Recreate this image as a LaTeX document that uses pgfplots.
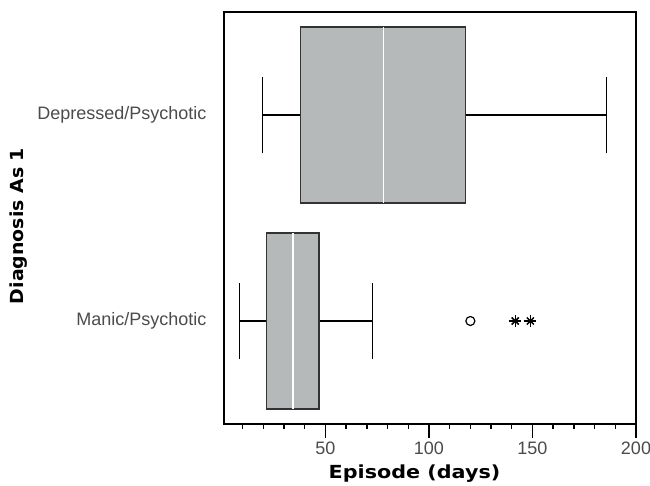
\documentclass[border=0pt]{standalone}
\usepackage{pgfplots}
\pgfplotsset{compat=1.18}
\usepgfplotslibrary{statistics}
\usepackage{fontspec}
\setmainfont{Liberation Sans}
\newfontfamily\labfont{DejaVu Sans}[FakeStretch=1.15]
\newfontfamily\ylabfont{DejaVu Sans}[FakeStretch=1.05]
\definecolor{boxgray}{RGB}{181,185,185}
\definecolor{txtgray}{RGB}{75,75,75}
\begin{document}
\begin{tikzpicture}[x=1pt,y=1pt]
\useasboundingbox (0,0) rectangle (650,486);
\begin{axis}[
  at={(224pt,62pt)}, anchor=south west,
  scale only axis, width=412pt, height=412pt,
  xmin=1, xmax=200, ymin=0.5, ymax=2.5,
  axis line style={line width=1.4pt},
  xtick={50,100,150,200}, minor xtick={10,20,30,40,60,70,80,90,110,120,130,140,160,170,180,190},
  xtick pos=bottom, tick align=outside,
  major tick length=14pt, minor tick length=5pt,
  every tick/.style={black, line width=1.4pt},
  ytick={1,2}, yticklabels={Manic/Psychotic, Depressed/Psychotic},
  ytick style={draw=none},
  /pgf/number format/assume math mode=true,
  xticklabel style={font=\fontsize{18}{20}\selectfont, text=txtgray},
  yticklabel style={font=\fontsize{18}{20}\selectfont, text=txtgray},
  xlabel={Episode (days)}, ylabel={Diagnosis As 1},
  xlabel style={at={(axis description cs:0.4624,-0.121)}, anchor=center, font=\labfont\bfseries\fontsize{18}{20}\selectfont},
  ylabel style={at={(axis description cs:-0.4976,0.4806)}, anchor=center, font=\ylabfont\bfseries\fontsize{18}{20}\selectfont},
  clip=false,
]
\addplot[draw=black, line width=1.3pt, fill=boxgray,
  boxplot prepared={lower whisker=19.5, lower quartile=37.8, median=78,
    upper quartile=117.5, upper whisker=185.7, draw position=2,
    box extend=0.855, whisker extend=0.37,
    every box/.style={draw=black!80, fill=boxgray},
    every median/.style={draw=white, line width=1.2pt}}] coordinates {};
\addplot[draw=black, line width=1.3pt, fill=boxgray,
  boxplot prepared={lower whisker=8.4, lower quartile=21.4, median=34.3,
    upper quartile=46.9, upper whisker=72.6, draw position=1,
    box extend=0.855, whisker extend=0.37,
    every box/.style={draw=black!80, fill=boxgray},
    every median/.style={draw=white, line width=1.2pt}}] coordinates {};
\addplot[only marks, mark=o, mark size=4.5pt, line width=1.2pt, black] coordinates {(120,1)};
\addplot[only marks, mark=+, mark size=6pt, line width=1.5pt, black] coordinates {(141.7,1) (149,1)};
\addplot[only marks, mark=x, mark size=5pt, line width=1.5pt, black] coordinates {(141.7,1) (149,1)};
\end{axis}
\end{tikzpicture}
\end{document}
